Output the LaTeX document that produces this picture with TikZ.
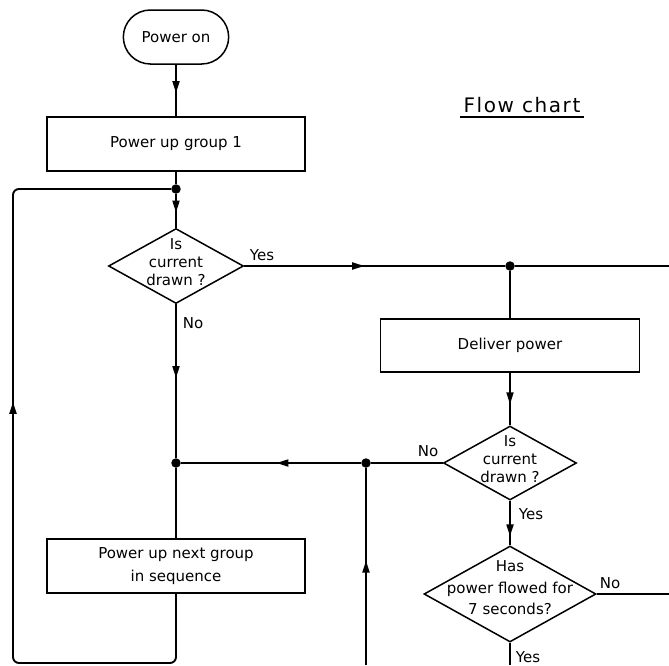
\documentclass[tikz,border=0pt]{standalone}
\usepackage{fontspec}
\setmainfont{DejaVu Sans}
\usetikzlibrary{shapes.geometric,shapes.misc,arrows.meta,decorations.markings}

\tikzset{
  line/.style={line width=1.9pt},
  arrowat/.style={postaction={decorate,decoration={markings,
      mark=at position #1 with {\arrow{Triangle[length=12pt,width=7pt]}}}}},
  arrowat/.default=0.5,
  start/.style={rounded rectangle,draw,line width=1.5pt,minimum width=112pt,minimum height=54pt},
  box/.style={draw,line width=1.5pt,minimum width=258pt,minimum height=54pt,align=center},
  decision/.style={diamond,draw,line width=1.5pt,inner sep=0pt},
  dot/.style={circle,fill,inner sep=0pt,minimum size=9.5pt},
}

\begin{document}
\begin{tikzpicture}[x=1pt,y=-1pt,font=\fontsize{15}{18}\selectfont]
\useasboundingbox[fill=white] (0,0) rectangle (669,665);

\node[start] (on) at (176,37) {Power on};
\node[box] (g1) at (176,144) {Power up group 1};
\node[dot] (j1) at (176,189) {};
\node[decision,minimum width=135pt,minimum height=75pt] (d1) at (176,266) {};
\node[align=center,font=\fontsize{15}{18}\selectfont] (d1t) at (176,262) {Is\\current\\drawn ?};
\node[dot] (j4) at (176,463) {};
\node[box,font=\fontsize{15}{23}\selectfont] (nx) at (176,566) {Power up next group\\in sequence};

\node[dot] (j2) at (510,266) {};
\node[box,minimum width=259pt,minimum height=53pt] (dp) at (510,345.5) {Deliver power};
\node[decision,minimum width=133pt,minimum height=74pt] (d2) at (510,463) {};
\node[align=center,font=\fontsize{15}{18}\selectfont] (d2t) at (510,459) {Is\\current\\drawn ?};
\node[dot] (j3) at (366,463) {};
\node[decision,minimum width=172pt,minimum height=96pt] (d3) at (510,594) {};
\node[align=center,font=\fontsize{15}{21.5}\selectfont] (d3t) at (510,588) {Has\\power flowed for\\7 seconds?};

\node (yes1) at (262,255) {Yes};
\node (no1) at (193,323) {No};
\node (no2) at (428,451) {No};
\node (yes2) at (531,514) {Yes};
\node (no3) at (610,583) {No};
\node (yes3) at (528,657) {Yes};

\node[anchor=base,inner sep=3pt,font=\fontsize{20}{22}\selectfont\addfontfeature{LetterSpace=8}] (title) at (522,112) {Flow chart};
\draw[line width=1.6pt] ([yshift=-5pt]title.base west) -- ([yshift=-5pt]title.base east);

\coordinate (rt1) at (669,266);
\coordinate (rt2) at (669,594);
\coordinate (bt1) at (366,665);
\coordinate (bt2) at (510,665);
\coordinate (bl) at (13,663);
\coordinate (tl) at (13,189);

\draw[line,arrowat=0.55] (on) -- (g1);
\draw[line] (g1) -- (j1);
\draw[line,arrowat=0.55] (j1) -- (d1);
\draw[line,arrowat=0.48] (d1.south) -- (j4);
\draw[line] (j4) -- (nx);
\draw[line,rounded corners=6pt,arrowat=0.57] (nx.south) |- (bl) -- (tl) -- (j1);
\draw[line,arrowat=0.46] (d1.east) -- (j2);
\draw[line] (j2) -- (rt1);
\draw[line] (j2) -- (dp);
\draw[line,arrowat=0.6] (dp) -- (d2);
\draw[line] (d2.west) -- (j3);
\draw[line,arrowat=0.47] (j3) -- (j4);
\draw[line,arrowat=0.53] (bt1) -- (j3);
\draw[line,arrowat=0.8] (d2.south) -- (d3.north);
\draw[line] (d3.east) -- (rt2);
\draw[line] (d3.south) -- (bt2);
\end{tikzpicture}
\end{document}
